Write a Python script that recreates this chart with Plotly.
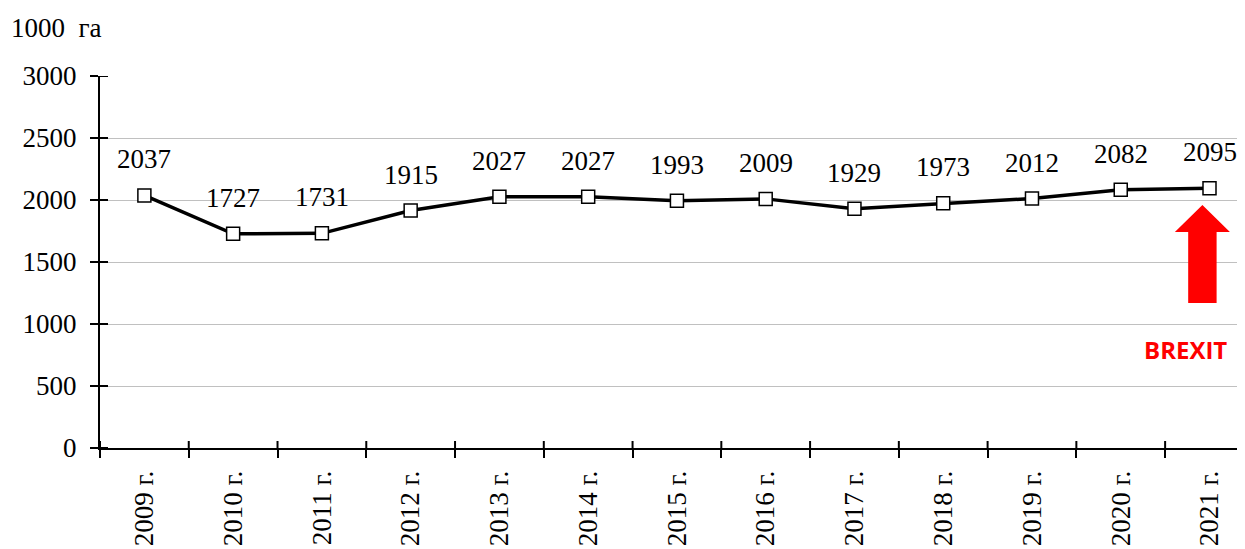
import plotly.graph_objects as go

years = ["2009 г.", "2010 г.", "2011 г.", "2012 г.", "2013 г.", "2014 г.", "2015 г.",
         "2016 г.", "2017 г.", "2018 г.", "2019 г.", "2020 г.", "2021 г."]
values = [2037, 1727, 1731, 1915, 2027, 2027, 1993, 2009, 1929, 1973, 2012, 2082, 2095]
y_ticks = [0, 500, 1000, 1500, 2000, 2500, 3000]

FONT = "Liberation Serif"
FS = 27
# page has an 8px body margin; compensate
W, H = 1237, 541
ML, MR, MT, MB = 92, 0, 68, 101
n = len(years)
xr = [-0.5, n - 0.6]
plot_w = W - ML - MR
plot_h = H - MT - MB

fig = go.Figure()
fig.add_trace(go.Scatter(
    x=list(range(n)), y=values, mode="lines+markers",
    line=dict(color="black", width=3.5),
    marker=dict(symbol="square", size=13, color="white", line=dict(color="black", width=1.5)),
    showlegend=False, hoverinfo="skip"))

for i, v in enumerate(values):
    fig.add_annotation(x=i, y=v, text=str(v), showarrow=False, yshift=36,
                       font=dict(family=FONT, size=FS, color="black"))

# inner halves of crossing ticks
shapes = []
for i in range(n + 1):
    shapes.append(dict(type="line", xref="x", yref="paper", x0=i - 0.5, x1=i - 0.5,
                       y0=0, y1=7 / plot_h, line=dict(color="black", width=2)))
for t in y_ticks:
    shapes.append(dict(type="line", xref="paper", yref="y", x0=0, x1=8 / plot_w,
                       y0=t, y1=t, line=dict(color="black", width=2)))

# red arrow
arrow_path = ("M 11.76 1169 L 12.08 1169 L 12.08 1742 L 12.23 1742 L 11.92 1960 "
              "L 11.61 1742 L 11.76 1742 Z")
shapes.append(dict(type="path", xref="x", yref="y", path=arrow_path,
                   fillcolor="#ff0000", line=dict(color="#ff0000", width=0)))
fig.update_layout(shapes=shapes)

fig.add_annotation(xref="x", yref="y", x=11.73, y=798, text="<b>BREXIT</b>", showarrow=False,
                   font=dict(family="Open Sans", size=24, color="#ff0000"))
fig.add_annotation(xref="paper", yref="paper", x=-91 / plot_w, y=1 + 48 / plot_h,
                   xanchor="left", yanchor="middle", text="1000  га", showarrow=False,
                   font=dict(family=FONT, size=FS, color="black"))

fig.update_xaxes(
    type="linear", range=xr, tickmode="array", tickvals=list(range(n)), ticktext=years,
    tickangle=-90, showgrid=False, showline=True, linecolor="black", linewidth=2,
    ticks="", tickfont=dict(family=FONT, size=FS, color="black"), zeroline=False,
    automargin=False, ticklabelstandoff=10)
fig.update_xaxes(minor=dict(tickmode="array", tickvals=[i - 0.5 for i in range(n + 1)],
                            ticks="outside", ticklen=8, tickwidth=2, tickcolor="black"))
fig.update_yaxes(
    range=[0, 3000], tickvals=y_ticks, showgrid=True, gridcolor="#c0c0c0", gridwidth=1,
    showline=True, linecolor="black", linewidth=2, ticks="outside", ticklen=8, tickwidth=2,
    tickcolor="black", tickfont=dict(family=FONT, size=FS, color="black"), zeroline=False,
    automargin=False, ticklabelstandoff=8)

fig.update_layout(width=W, height=H, margin=dict(l=ML, r=MR, t=MT, b=MB),
                  plot_bgcolor="white", paper_bgcolor="white")
fig.write_html("out.html")
